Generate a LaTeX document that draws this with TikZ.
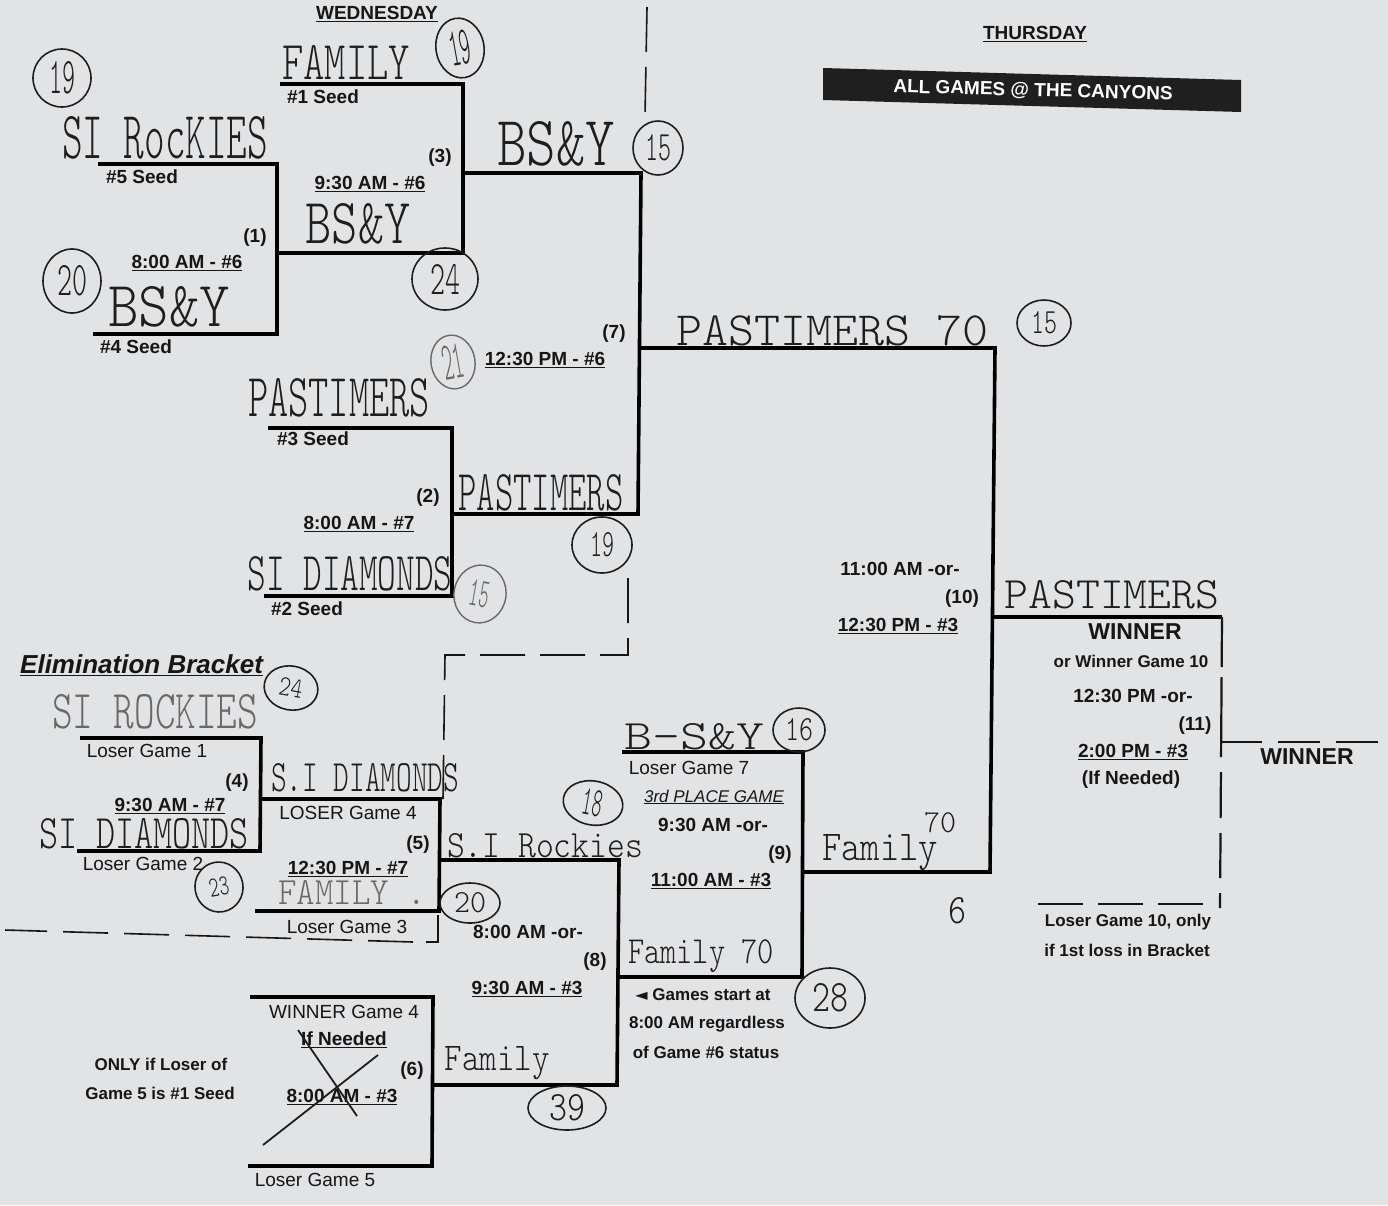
\documentclass[tikz,border=0pt]{standalone}
\usepackage{fontspec}
\setmainfont{Liberation Sans}
\newfontfamily\symfont{DejaVu Sans}
\usepackage{graphicx}
\usetikzlibrary{shapes.geometric}
\definecolor{paper}{RGB}{226,227,229}
\definecolor{ink}{RGB}{22,22,22}
\definecolor{pen}{RGB}{30,30,30}
\definecolor{faint}{RGB}{105,105,105}
\newcommand\handfont{\fontfamily{lmtt}\fontseries{l}\selectfont}
\newcommand\hwt[3]{\resizebox{#1pt}{#2pt}{\handfont #3}}
\tikzset{
  lab/.style={font=\fontsize{19}{21}\selectfont\bfseries, text=ink, inner sep=0pt},
  labr/.style={font=\fontsize{19}{21}\selectfont, text=ink, inner sep=0pt},
  labs/.style={font=\fontsize{17}{19}\selectfont\bfseries, text=ink, inner sep=0pt},
  labbig/.style={font=\fontsize{23}{25}\selectfont\bfseries, text=ink, inner sep=0pt},
  brk/.style={line width=3.6pt, draw=black, line join=miter},
  sep/.style={line width=1.6pt, draw=ink, dash pattern=on 45pt off 15pt},
  gap/.style={line width=2.2pt, draw=ink},
  hw/.style={inner sep=0pt, text=pen},
  hwf/.style={inner sep=0pt, text=faint},
  circ/.style={ellipse, draw=pen, line width=1.6pt, inner sep=0pt, text=pen},
  circf/.style={ellipse, draw=faint, line width=1.4pt, inner sep=0pt, text=faint},
}
\begin{document}
\begin{tikzpicture}[x=1pt,y=-1pt]
\useasboundingbox (0,0) rectangle (1388,1205);
\fill[paper] (0,0) rectangle (1388,1205);

% ---------- coordinates of the winners bracket ----------
\coordinate (g1a) at (98,164);  \coordinate (g1b) at (277,164);
\coordinate (g1c) at (277,334); \coordinate (g1d) at (93,334);
\coordinate (g1o) at (277,253);
\coordinate (g3a) at (280,84);  \coordinate (g3b) at (463,84);
\coordinate (g3c) at (463,253); \coordinate (g3o) at (463,173);
\coordinate (g2a) at (268,428); \coordinate (g2b) at (452,428);
\coordinate (g2c) at (452,596); \coordinate (g2d) at (264,596);
\coordinate (g2o) at (452,514);
\coordinate (g7t) at (641,173); \coordinate (g7b) at (638,514);
\coordinate (g7o) at (639,348);
\coordinate (g10t) at (995,348); \coordinate (g10b) at (990,872);
\coordinate (g10o) at (992,617);
\coordinate (g11t) at (1222,617); \coordinate (g11b) at (1220,908);
\coordinate (g11l) at (1038,904); \coordinate (g11m) at (1203,904);
\coordinate (g11o) at (1220,742); \coordinate (g11r) at (1382,742);
% ---------- elimination bracket ----------
\coordinate (g4a) at (80,738);  \coordinate (g4b) at (261,738);
\coordinate (g4c) at (260,851); \coordinate (g4d) at (77,851);
\coordinate (g4o) at (260,799);
\coordinate (g5t) at (440,799); \coordinate (g5b) at (439,911);
\coordinate (g5d) at (255,911); \coordinate (g5o) at (440,860);
\coordinate (g8t) at (619,860); \coordinate (g8b) at (617,1085);
\coordinate (g8o) at (618,977);
\coordinate (g6a) at (250,997); \coordinate (g6b) at (433,997);
\coordinate (g6c) at (432,1166); \coordinate (g6d) at (248,1166);
\coordinate (g6o) at (433,1085);
\coordinate (g9a) at (622,752); \coordinate (g9b) at (803,752);
\coordinate (g9c) at (802,977); \coordinate (g9o) at (803,872);

% ---------- day separator ----------
\coordinate (s1) at (647,7);   \coordinate (s2) at (645,116);
\coordinate (s3) at (628,578); \coordinate (s4) at (628,655);
\coordinate (s5) at (445,655); \coordinate (s6) at (443,799);
\coordinate (s7) at (438,915); \coordinate (s8) at (438,942);
\coordinate (s9) at (426,942); \coordinate (s10) at (413,942);
\coordinate (s11) at (5,930);
\draw[sep] (s1) -- (s2);
\draw[sep] (s3) -- (s4) -- (s5) -- (s6);
\draw[line width=1.6pt, draw=ink] (s7) -- (s8) -- (s9);
\draw[sep, dash pattern=on 45pt off 16pt] (s10) -- (s11);

% ---------- bracket lines ----------
\draw[brk] (g1a) -- (g1b) -- (g1c) -- (g1d);
\draw[brk] (g3a) -- (g3b) -- (g3c) -- (g1o);
\draw[brk] (g2a) -- (g2b) -- (g2c) -- (g2d);
\draw[brk] (g3o) -- (g7t) -- (g7b) -- (g2o);
\draw[brk] (g7o) -- (g10t) -- (g10b) -- (g9o);
\draw[brk] (g10o) -- (g11t);
\draw[gap, dash pattern=on 50pt off 10pt on 80pt off 15pt on 46pt off 15pt on 45pt off 15pt on 15pt off 10pt] (g11t) -- (g11b);
\draw[gap, dash pattern=on 45pt off 15pt] (g11l) -- (g11m);
\draw[gap, dash pattern=on 42pt off 16pt] (g11o) -- (g11r);
\draw[brk] (g4a) -- (g4b) -- (g4c) -- (g4d);
\draw[brk] (g4o) -- (g5t) -- (g5b) -- (g5d);
\draw[brk] (g5o) -- (g8t) -- (g8b) -- (g6o);
\draw[brk] (g6a) -- (g6b) -- (g6c) -- (g6d);
\draw[brk] (g9a) -- (g9b) -- (g9c) -- (g8o);

% ---------- headers ----------
\node[lab] (wed) at (377,14) {\underline{WEDNESDAY}};
\node[lab] (thu) at (1035,34) {\underline{THURSDAY}};
\fill[black!88] (823,68) -- (1241,80) -- (1241,112) -- (823,100) -- cycle;
\node[lab, text=white, rotate=-1.6] (canyons) at (1033,91) {ALL GAMES @ THE CANYONS};

% ---------- printed labels: winners bracket ----------
\node[lab] (s1l) at (323,97) {\#1 Seed};
\node[lab] (n3) at (440,158) {(3)};
\node[lab] (t3) at (370,184) {\underline{9:30 AM - \#6}};
\node[lab] (s5l) at (142,177) {\#5 Seed};
\node[lab] (n1) at (255,238) {(1)};
\node[lab] (t1) at (187,263) {\underline{8:00 AM - \#6}};
\node[lab] (s4l) at (136,347) {\#4 Seed};
\node[lab] (n7) at (614,334) {(7)};
\node[lab] (t7) at (545,360) {\underline{12:30 PM - \#6}};
\node[lab] (s3l) at (313,439) {\#3 Seed};
\node[lab] (n2) at (428,498) {(2)};
\node[lab] (t2) at (359,524) {\underline{8:00 AM - \#7}};
\node[lab] (s2l) at (307,609) {\#2 Seed};
\node[lab] (t10a) at (900,569) {11:00 AM -or-};
\node[lab] (n10) at (962,599) {(10)};
\node[lab] (t10b) at (898,626) {\underline{12:30 PM - \#3}};
\node[labbig] (win1) at (1135,632) {WINNER};
\node[labs] (orw) at (1131,661) {or Winner Game 10};
\node[lab] (t11a) at (1133,696) {12:30 PM -or-};
\node[lab] (n11) at (1195,726) {(11)};
\node[lab] (t11b) at (1133,752) {\underline{2:00 PM - \#3}};
\node[lab] (ifn) at (1131,780) {(If Needed)};
\node[labbig] (win2) at (1307,757) {WINNER};
\node[labs] (lg10a) at (1128,922) {Loser Game 10, only};
\node[labs] (lg10b) at (1127,950) {if 1st loss in Bracket};

% ---------- printed labels: elimination bracket ----------
\node[font=\fontsize{26}{28}\selectfont\bfseries\itshape, text=ink, inner sep=0pt, anchor=west] (elim) at (20,665) {\underline{Elimination Bracket}};
\node[labr] (lg1) at (147,751) {Loser Game 1};
\node[lab] (n4) at (237,783) {(4)};
\node[lab] (t4) at (170,806) {\underline{9:30 AM - \#7}};
\node[labr] (lg2) at (143,864) {Loser Game 2};
\node[labr] (lg4) at (348,813) {LOSER Game 4};
\node[lab] (n5) at (418,845) {(5)};
\node[lab] (t5) at (348,869) {\underline{12:30 PM - \#7}};
\node[labr] (lg3) at (347,927) {Loser Game 3};
\node[labr] (lg7) at (689,768) {Loser Game 7};
\node[font=\fontsize{17}{19}\selectfont\itshape, text=ink, inner sep=0pt] (third) at (714,797) {\underline{3rd PLACE GAME}};
\node[lab] (t9a) at (713,825) {9:30 AM -or-};
\node[lab] (n9) at (780,855) {(9)};
\node[lab] (t9b) at (711,881) {\underline{11:00 AM - \#3}};
\node[lab] (t8a) at (528,932) {8:00 AM -or-};
\node[lab] (n8) at (595,962) {(8)};
\node[lab] (t8b) at (527,989) {\underline{9:30 AM - \#3}};
\node[labs] (gs1) at (703,995) {{\symfont\fontsize{16}{18}\selectfont ◄} Games start at};
\node[labs] (gs2) at (707,1024) {8:00 AM regardless};
\node[labs] (gs3) at (706,1052) {of Game \#6 status};
\node[labr] (wg4) at (344,1012) {WINNER Game 4};
\node[lab] (ifn6) at (344,1040) {\underline{If Needed}};
\node[lab] (n6) at (412,1071) {(6)};
\node[lab] (t6) at (342,1097) {\underline{8:00 AM - \#3}};
\node[labr] (lg5) at (315,1180) {Loser Game 5};
\node[labs] (only1) at (161,1064) {ONLY if Loser of};
\node[labs] (only2) at (160,1093) {Game 5 is \#1 Seed};

% ---------- handwriting ----------
\node[hw] (h1) at (346,62) {\hwt{128}{34}{FAMILY}};
\node[hw] (h2) at (165,138) {\hwt{206}{42}{SI RocKIES}};
\node[hw] (h3) at (358,224) {\hwt{105}{40}{BS\&Y}};
\node[hw] (h4) at (169,307) {\hwt{122}{40}{BS\&Y}};
\node[hw] (h5) at (556,144) {\hwt{118}{44}{BS\&Y}};
\node[hw] (h6) at (832,331) {\hwt{312}{30}{PASTIMERS 70}};
\node[hw] (h7) at (339,398) {\hwt{182}{38}{PASTIMERS}};
\node[hw] (h8) at (541,493) {\hwt{165}{36}{PASTIMERS}};
\node[hw] (h9) at (350,574) {\hwt{205}{34}{SI DIAMONDS}};
\node[hw] (h10) at (1112,595) {\hwt{215}{28}{PASTIMERS}};
\node[hwf] (h11) at (155,712) {\hwt{206}{34}{SI ROCKIES}};
\node[hw] (h12) at (365,778) {\hwt{188}{28}{S.I DIAMONDS}};
\node[hw] (h13) at (144,834) {\hwt{210}{30}{SI DIAMONDS}};
\node[hw] (h14) at (545,846) {\hwt{196}{24}{S.I Rockies}};
\node[hwf] (h15) at (352,892) {\hwt{148}{24}{FAMILY .}};
\node[hw] (h16) at (694,737) {\hwt{140}{26}{B-S\&Y}};
\node[hw] (h17) at (940,823) {\hwt{32}{20}{70}};
\node[hw] (h18) at (880,853) {\hwt{116}{26}{Family}};
\node[hw] (h19) at (957,911) {\hwt{18}{26}{6}};
\node[hw] (h20) at (701,956) {\hwt{146}{24}{Family 70}};
\node[hw] (h21) at (497,1063) {\hwt{105}{24}{Family}};

% ---------- circled numbers ----------
\node[circ, minimum width=48pt, minimum height=60pt, rotate=10] (c1) at (460,48) {\hwt{22}{34}{19}};
\node[circ, minimum width=58pt, minimum height=58pt] (c2) at (62,78) {\hwt{26}{32}{19}};
\node[circ, minimum width=66pt, minimum height=62pt] (c3) at (445,279) {\hwt{30}{30}{24}};
\node[circ, minimum width=58pt, minimum height=64pt] (c4) at (72,281) {\hwt{30}{30}{20}};
\node[circ, minimum width=50pt, minimum height=54pt] (c5) at (658,148) {\hwt{26}{26}{15}};
\node[circ, minimum width=54pt, minimum height=46pt] (c6) at (1044,323) {\hwt{26}{22}{15}};
\node[circf, minimum width=44pt, minimum height=54pt, rotate=10] (c7) at (453,362) {\hwt{22}{34}{21}};
\node[circ, minimum width=60pt, minimum height=56pt] (c8) at (602,545) {\hwt{24}{24}{19}};
\node[circf, minimum width=52pt, minimum height=58pt, rotate=-10] (c9) at (480,594) {\hwt{20}{26}{15}};
\node[circ, minimum width=54pt, minimum height=44pt, rotate=-10] (c10) at (291,688) {\hwt{24}{18}{24}};
\node[circ, minimum width=48pt, minimum height=50pt, rotate=10] (c11) at (219,887) {\hwt{20}{18}{23}};
\node[circ, minimum width=60pt, minimum height=44pt, rotate=-10] (c12) at (593,803) {\hwt{20}{26}{18}};
\node[circ, minimum width=60pt, minimum height=40pt] (c13) at (470,903) {\hwt{32}{20}{20}};
\node[circ, minimum width=52pt, minimum height=44pt] (c14) at (799,730) {\hwt{28}{22}{16}};
\node[circ, minimum width=70pt, minimum height=60pt] (c15) at (830,998) {\hwt{36}{28}{28}};
\node[circ, minimum width=78pt, minimum height=44pt] (c16) at (567,1108) {\hwt{36}{26}{39}};

% ---------- crossing out of game 6 ----------
\coordinate (x1) at (263,1145); \coordinate (x2) at (378,1055);
\coordinate (x3) at (298,1030); \coordinate (x4) at (357,1116);
\draw[pen, line width=1.8pt] (x1) -- (x2);
\draw[pen, line width=1.8pt] (x3) -- (x4);
\end{tikzpicture}
\end{document}
